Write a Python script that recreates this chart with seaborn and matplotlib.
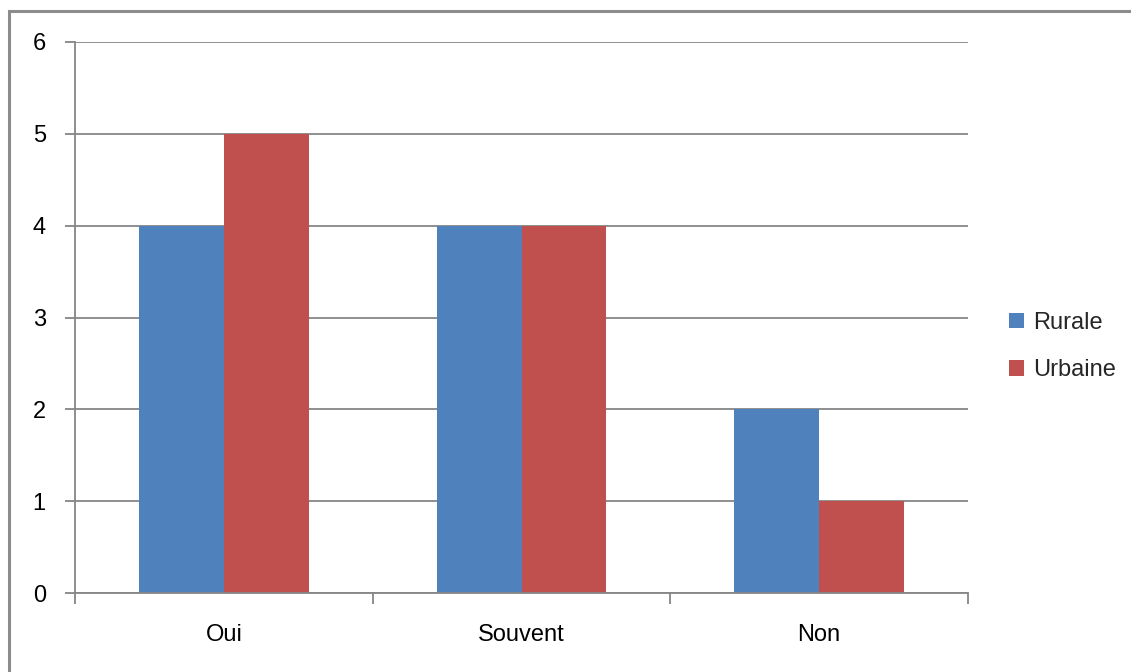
import matplotlib
matplotlib.use("Agg")
import matplotlib.pyplot as plt
from matplotlib.patches import Rectangle
import seaborn as sns
import pandas as pd

categories = ["Oui", "Souvent", "Non"]
series_names = ["Rurale", "Urbaine"]
rurale = [4, 4, 2]
urbaine = [5, 4, 1]
y_ticks = [0, 1, 2, 3, 4, 5, 6]

colors = ["#4F81BD", "#C0504D"]
grid_gray = "#868686"

df = pd.DataFrame({
    "categorie": categories * 2,
    "zone": [series_names[0]] * 3 + [series_names[1]] * 3,
    "valeur": rurale + urbaine,
})

sns.set_theme(style="white")
plt.rcParams["font.family"] = ["Liberation Sans", "DejaVu Sans"]

fig = plt.figure(figsize=(11.31, 6.72), dpi=100)
ax = fig.add_axes([75 / 1131, 79 / 672, 893 / 1131, 551 / 672])

sns.barplot(data=df, x="categorie", y="valeur", hue="zone",
            order=categories, hue_order=series_names,
            palette=colors, width=0.571, gap=0, saturation=1,
            linewidth=0, ax=ax, legend=True)

ax.set_xlim(-0.5, 2.5)
ax.set_ylim(0, 6)
ax.set_yticks(y_ticks)
ax.set_xticks([0, 1, 2])
ax.set_xticks([-0.5, 0.5, 1.5, 2.5], minor=True)
ax.set_xlabel("")
ax.set_ylabel("")
ax.set_axisbelow(True)
ax.yaxis.grid(True, color=grid_gray, linewidth=1.3)
ax.xaxis.grid(False)

ax.tick_params(axis="y", which="major", direction="out", length=7,
               width=1.3, color=grid_gray, labelsize=17, pad=14,
               left=True, labelcolor="black")
ax.tick_params(axis="x", which="major", length=0, labelsize=17, pad=22,
               labelcolor="black")
ax.tick_params(axis="x", which="minor", direction="out", length=8,
               width=1.3, color=grid_gray, bottom=True)

for side in ["top", "right"]:
    ax.spines[side].set_visible(False)
for side in ["left", "bottom"]:
    ax.spines[side].set_color(grid_gray)
    ax.spines[side].set_linewidth(1.3)

ax.legend(loc="center left", bbox_to_anchor=(1.046, 0.447), frameon=False,
          fontsize=17, handlelength=0.62, handleheight=0.62,
          handletextpad=0.4, labelspacing=1.08, borderpad=0,
          borderaxespad=0)

# Outer chart frame
fig.patches.append(Rectangle((9 / 1131, -0.1), 1.2, 1 - 11 / 672 + 0.1,
                             transform=fig.transFigure, fill=False,
                             edgecolor="#8C8C8C", linewidth=2.2))

fig.savefig("out.png", dpi=100)
